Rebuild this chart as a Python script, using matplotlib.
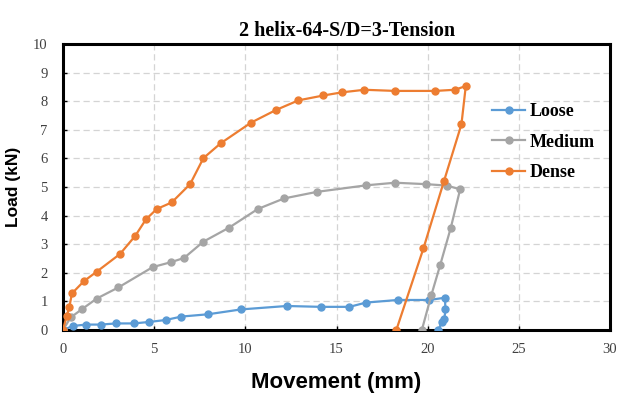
import numpy as np
import matplotlib
matplotlib.use("Agg")
import matplotlib.pyplot as plt

# ── data (movement mm, load kN) ────────────────────────────────────────────
loose_x = [0, 0.53, 1.24, 2.07, 2.91, 3.89, 4.70, 5.63, 6.49, 7.95, 9.76,
           12.27, 14.13, 15.71, 16.62, 18.36, 20.09, 20.95, 20.97, 20.92,
           20.77, 20.59]
loose_y = [0, 0.14, 0.19, 0.19, 0.23, 0.23, 0.28, 0.35, 0.47, 0.55, 0.72,
           0.84, 0.81, 0.81, 0.96, 1.05, 1.05, 1.13, 0.72, 0.40, 0.27, 0]

medium_x = [0, 0.42, 1.02, 1.85, 3.04, 4.92, 5.91, 6.64, 7.70, 9.11, 10.68,
            12.12, 13.92, 16.64, 18.21, 19.91, 21.05, 21.78, 21.27, 20.68,
            20.20, 19.68]
medium_y = [0, 0.44, 0.72, 1.10, 1.49, 2.20, 2.37, 2.52, 3.09, 3.58, 4.23,
            4.60, 4.83, 5.06, 5.15, 5.10, 5.05, 4.92, 3.58, 2.26, 1.22, 0]

dense_x = [0, 0.20, 0.35, 0.49, 1.15, 1.85, 3.13, 3.97, 4.55, 5.14, 5.96,
           6.97, 7.70, 8.65, 10.31, 11.67, 12.91, 14.28, 15.30, 16.53, 18.21,
           20.42, 21.49, 22.09, 21.85, 20.90, 19.77, 18.28]
dense_y = [0, 0.49, 0.81, 1.28, 1.71, 2.04, 2.66, 3.30, 3.87, 4.23, 4.46,
           5.10, 6.01, 6.53, 7.25, 7.69, 8.03, 8.20, 8.31, 8.40, 8.36, 8.36,
           8.40, 8.53, 7.19, 5.22, 2.86, 0]

SERIES = [
    ("Loose", loose_x, loose_y, "#5B9BD5"),
    ("Medium", medium_x, medium_y, "#A5A5A5"),
    ("Dense", dense_x, dense_y, "#ED7D31"),
]

# ── figure ─────────────────────────────────────────────────────────────────
fig = plt.figure(figsize=(6.19, 3.94), dpi=100)
ax = fig.add_axes([0.1018, 0.1624, 0.8837, 0.7259])

for name, xs, ys, col in SERIES:
    ax.plot(xs, ys, '-o', color=col, lw=1.6, ms=5, label=name, zorder=3)

ax.set_xlim(0, 30)
ax.set_ylim(0, 10)
ax.set_xticks(np.arange(0, 31, 5))
ax.set_yticks(np.arange(0, 11, 1))
ax.grid(True, color='#d4d4d4', ls=(0, (5, 3)), lw=0.9, zorder=0)

for s in ax.spines.values():
    s.set_linewidth(2.2)
    s.set_color('black')

ax.tick_params(direction='in', length=3, width=1, pad=9,
               labelsize=10.5, labelcolor='#404040')
ax.tick_params(axis='y', pad=11)
for lab in ax.get_xticklabels() + ax.get_yticklabels():
    lab.set_family('Liberation Serif')

ax.set_title('2 helix-64-S/D=3-Tension', fontsize=14.5, fontweight='bold',
             family='Liberation Serif', x=0.52, pad=6)
ax.set_xlabel('Movement (mm)', fontsize=16, fontweight='bold',
              family='Liberation Sans', labelpad=12)
ax.set_ylabel('Load (kN)', fontsize=12.5, fontweight='bold',
              family='Liberation Sans', labelpad=9)

leg = ax.legend(loc='upper left', bbox_to_anchor=(0.755, 0.85), frameon=False,
                prop={'family': 'Liberation Serif', 'weight': 'bold', 'size': 13},
                handlelength=1.8, handletextpad=0.25, labelspacing=0.75)

fig.savefig('out.png', dpi=100)
